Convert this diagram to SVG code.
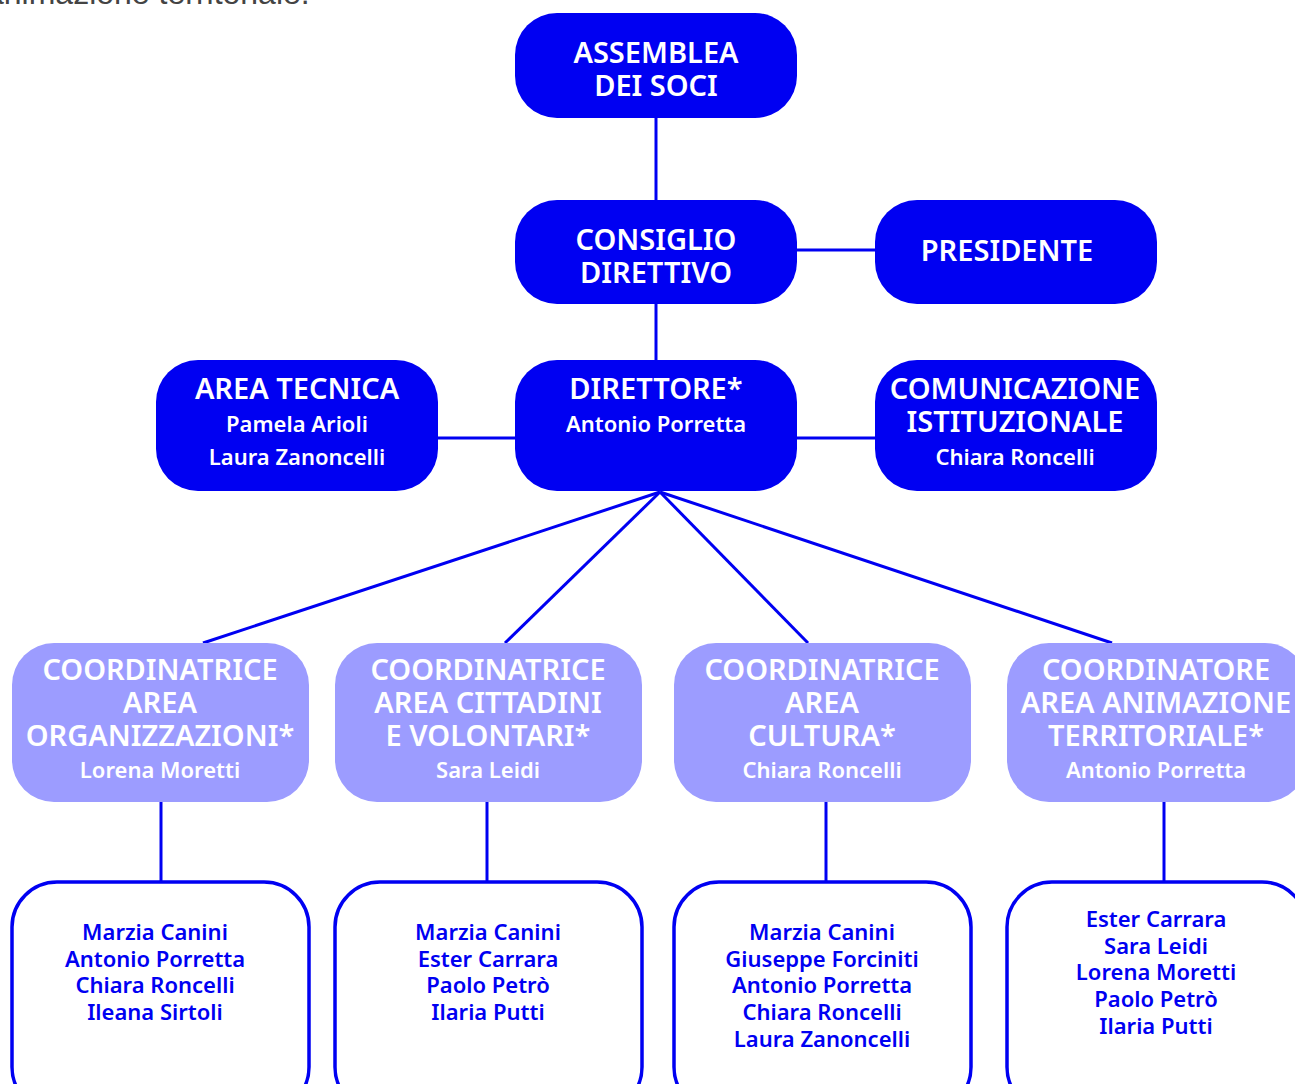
<svg xmlns="http://www.w3.org/2000/svg" width="1295" height="1084" viewBox="0 0 1295 1084">
<style>
.dark{fill:#0000F2}
.light{fill:#9C9CFF}
.white{fill:#FFFFFF;stroke:#0000F2;stroke-width:3.5}
.conn{stroke:#0000F2;stroke-width:3;fill:none}
text{font-family:"Noto Sans","Open Sans",sans-serif;text-anchor:middle;font-weight:600}
.h{font-size:29px;fill:#FFFFFF}
.s{font-size:22px;fill:#FFFFFF}
.n{font-size:22px;fill:#0000F2}
.top{font-family:"Liberation Sans",Arial,sans-serif;font-weight:400;text-anchor:start;font-size:32px;fill:#444444}
</style>
<rect width="1295" height="1084" fill="#FFFFFF"/>
<text class="top" x="-14" y="4">animazione territoriale.</text>
<g id="connectors">
<line class="conn" x1="656" y1="118" x2="656" y2="200"/>
<line class="conn" x1="797" y1="250" x2="875" y2="250"/>
<line class="conn" x1="656" y1="304" x2="656" y2="360"/>
<line class="conn" x1="438" y1="438" x2="515" y2="438"/>
<line class="conn" x1="797" y1="438" x2="875" y2="438"/>
<line class="conn" x1="660" y1="492" x2="203" y2="643"/>
<line class="conn" x1="660" y1="492" x2="505" y2="643"/>
<line class="conn" x1="660" y1="492" x2="808" y2="643"/>
<line class="conn" x1="660" y1="492" x2="1112" y2="643"/>
<line class="conn" x1="161" y1="802" x2="161" y2="882"/>
<line class="conn" x1="487" y1="802" x2="487" y2="882"/>
<line class="conn" x1="826" y1="802" x2="826" y2="882"/>
<line class="conn" x1="1164" y1="802" x2="1164" y2="882"/>
</g>
<g id="assemblea">
<rect class="dark" x="515" y="13" width="282" height="105" rx="42"/>
<text class="h" x="656" y="63">ASSEMBLEA</text>
<text class="h" x="656" y="96">DEI SOCI</text>
</g>
<g id="consiglio">
<rect class="dark" x="515" y="200" width="282" height="104" rx="42"/>
<text class="h" x="656" y="250">CONSIGLIO</text>
<text class="h" x="656" y="283">DIRETTIVO</text>
</g>
<g id="presidente">
<rect class="dark" x="875" y="200" width="282" height="104" rx="42"/>
<text class="h" x="1007" y="261">PRESIDENTE</text>
</g>
<g id="direttore">
<rect class="dark" x="515" y="360" width="282" height="131" rx="42"/>
<text class="h" x="656" y="399">DIRETTORE*</text>
<text class="s" x="656" y="432">Antonio Porretta</text>
</g>
<g id="area-tecnica">
<rect class="dark" x="156" y="360" width="282" height="131" rx="42"/>
<text class="h" x="297" y="399">AREA TECNICA</text>
<text class="s" x="297" y="432">Pamela Arioli</text>
<text class="s" x="297" y="465">Laura Zanoncelli</text>
</g>
<g id="comunicazione">
<rect class="dark" x="875" y="360" width="282" height="131" rx="42"/>
<text class="h" x="1015" y="399">COMUNICAZIONE</text>
<text class="h" x="1015" y="432">ISTITUZIONALE</text>
<text class="s" x="1015" y="465">Chiara Roncelli</text>
</g>
<g id="coord-organizzazioni">
<rect class="light" x="12" y="643" width="297" height="159" rx="42"/>
<text class="h" x="160" y="680">COORDINATRICE</text>
<text class="h" x="160" y="713">AREA</text>
<text class="h" x="160" y="746">ORGANIZZAZIONI*</text>
<text class="s" x="160" y="778">Lorena Moretti</text>
</g>
<g id="coord-cittadini">
<rect class="light" x="335" y="643" width="307" height="159" rx="42"/>
<text class="h" x="488" y="680">COORDINATRICE</text>
<text class="h" x="488" y="713">AREA CITTADINI</text>
<text class="h" x="488" y="746">E VOLONTARI*</text>
<text class="s" x="488" y="778">Sara Leidi</text>
</g>
<g id="coord-cultura">
<rect class="light" x="674" y="643" width="297" height="159" rx="42"/>
<text class="h" x="822" y="680">COORDINATRICE</text>
<text class="h" x="822" y="713">AREA</text>
<text class="h" x="822" y="746">CULTURA*</text>
<text class="s" x="822" y="778">Chiara Roncelli</text>
</g>
<g id="coord-animazione">
<rect class="light" x="1007" y="643" width="300" height="159" rx="42"/>
<text class="h" x="1156" y="680">COORDINATORE</text>
<text class="h" x="1156" y="713">AREA ANIMAZIONE</text>
<text class="h" x="1156" y="746">TERRITORIALE*</text>
<text class="s" x="1156" y="778">Antonio Porretta</text>
</g>
<g id="team-organizzazioni">
<rect class="white" x="12" y="882" width="297" height="230" rx="45"/>
<text class="n" x="155" y="940">Marzia Canini</text>
<text class="n" x="155" y="967">Antonio Porretta</text>
<text class="n" x="155" y="993">Chiara Roncelli</text>
<text class="n" x="155" y="1020">Ileana Sirtoli</text>
</g>
<g id="team-cittadini">
<rect class="white" x="335" y="882" width="307" height="230" rx="45"/>
<text class="n" x="488" y="940">Marzia Canini</text>
<text class="n" x="488" y="967">Ester Carrara</text>
<text class="n" x="488" y="993">Paolo Petrò</text>
<text class="n" x="488" y="1020">Ilaria Putti</text>
</g>
<g id="team-cultura">
<rect class="white" x="674" y="882" width="297" height="230" rx="45"/>
<text class="n" x="822" y="940">Marzia Canini</text>
<text class="n" x="822" y="967">Giuseppe Forciniti</text>
<text class="n" x="822" y="993">Antonio Porretta</text>
<text class="n" x="822" y="1020">Chiara Roncelli</text>
<text class="n" x="822" y="1047">Laura Zanoncelli</text>
</g>
<g id="team-animazione">
<rect class="white" x="1007" y="882" width="300" height="230" rx="45"/>
<text class="n" x="1156" y="927">Ester Carrara</text>
<text class="n" x="1156" y="954">Sara Leidi</text>
<text class="n" x="1156" y="980">Lorena Moretti</text>
<text class="n" x="1156" y="1007">Paolo Petrò</text>
<text class="n" x="1156" y="1034">Ilaria Putti</text>
</g>
</svg>
